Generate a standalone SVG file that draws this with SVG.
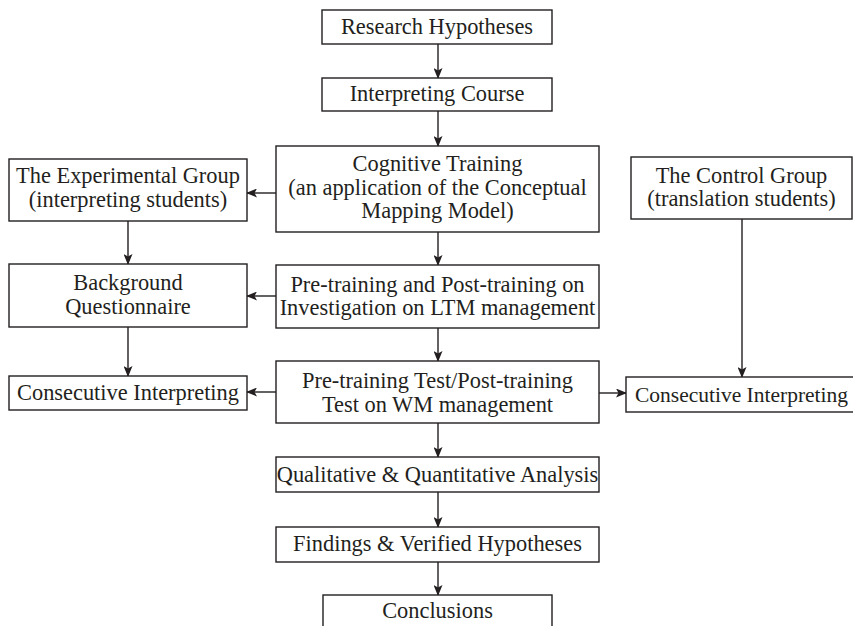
<svg xmlns="http://www.w3.org/2000/svg" width="853" height="626" viewBox="0 0 853 626">
<defs>
<style>
rect{fill:#fff;stroke:#231f20;stroke-width:1.4}
text{font-family:"Liberation Serif","Times New Roman",serif;font-size:22.4px;fill:#231f20;text-anchor:middle}
.c line{stroke:#231f20;stroke-width:1.4;marker-end:url(#ah)}
</style>
<marker id="ah" markerWidth="11" markerHeight="9" refX="10" refY="4.5" orient="auto" markerUnits="userSpaceOnUse">
<path d="M0,0 L11,4.5 L0,9 L2.5,4.5 z" fill="#231f20"/>
</marker>
</defs>
<rect x="0" y="0" width="853" height="626" style="fill:#fff;stroke:none"/>
<g class="c" id="connectors">
<line x1="438" y1="44" x2="438" y2="78"/>
<line x1="438" y1="111" x2="438" y2="146"/>
<line x1="438" y1="232" x2="438" y2="265"/>
<line x1="438" y1="328" x2="438" y2="361"/>
<line x1="438" y1="423" x2="438" y2="457"/>
<line x1="438" y1="492" x2="438" y2="527"/>
<line x1="438" y1="562" x2="438" y2="595"/>
<line x1="128" y1="221" x2="128" y2="264"/>
<line x1="128" y1="327" x2="128" y2="376"/>
<line x1="276" y1="193" x2="247" y2="193"/>
<line x1="276" y1="296" x2="247" y2="296"/>
<line x1="276" y1="392" x2="247" y2="392"/>
<line x1="599" y1="393" x2="626" y2="393"/>
<line x1="742" y1="219" x2="742" y2="377"/>
</g>
<g id="research"><rect x="322" y="10" width="230" height="34"/><text x="437" y="34">Research Hypotheses</text></g>
<g id="course"><rect x="322" y="78" width="230" height="33"/><text x="437" y="101">Interpreting Course</text></g>
<g id="cognitive"><rect x="276" y="146" width="323" height="86"/><text x="437.5" y="171">Cognitive Training</text><text x="437.5" y="194.5">(an application of the Conceptual</text><text x="437.5" y="218">Mapping Model)</text></g>
<g id="experimental"><rect x="9" y="159" width="238" height="62"/><text x="128" y="183">The Experimental Group</text><text x="128" y="206.5">(interpreting students)</text></g>
<g id="control"><rect x="631" y="157" width="221" height="62"/><text x="741.5" y="182.5">The Control Group</text><text x="741.5" y="206">(translation students)</text></g>
<g id="background"><rect x="9" y="264" width="238" height="63"/><text x="128" y="290">Background</text><text x="128" y="314">Questionnaire</text></g>
<g id="ltm"><rect x="276" y="265" width="323" height="63"/><text x="437.5" y="292">Pre-training and Post-training on</text><text x="437.5" y="315">Investigation on LTM management</text></g>
<g id="consec-left"><rect x="9" y="376" width="238" height="34"/><text x="128" y="400">Consecutive Interpreting</text></g>
<g id="test"><rect x="276" y="361" width="323" height="62"/><text x="437.5" y="388">Pre-training Test/Post-training</text><text x="437.5" y="412">Test on WM management</text></g>
<g id="consec-right"><rect x="626" y="377" width="236" height="35"/><text x="741.5" y="401.5" style="font-size:21.5px">Consecutive Interpreting</text></g>
<g id="analysis"><rect x="276" y="457" width="323" height="35"/><text x="437.5" y="481.5">Qualitative &amp; Quantitative Analysis</text></g>
<g id="findings"><rect x="276" y="527" width="323" height="35"/><text x="437.5" y="551">Findings &amp; Verified Hypotheses</text></g>
<g id="conclusions"><rect x="323" y="595" width="229" height="40"/><text x="437.5" y="618">Conclusions</text></g>
</svg>
